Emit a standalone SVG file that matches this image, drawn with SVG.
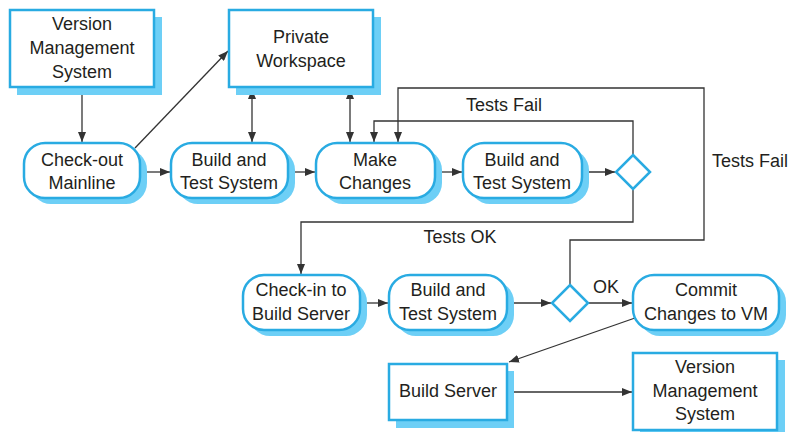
<svg xmlns="http://www.w3.org/2000/svg" width="793" height="432" viewBox="0 0 793 432">
<defs>
<marker id="ah" viewBox="0 0 10 8" refX="10" refY="4" markerWidth="10" markerHeight="8" markerUnits="userSpaceOnUse" orient="auto-start-reverse">
<path d="M0,0 L10,4 L0,8 Z" fill="#333"/>
</marker>
</defs>
<style>
.n{fill:#fff;stroke:#29abe2;stroke-width:2.5}
.sh{fill:#6dcff6;stroke:none}
.d{fill:#fff;stroke:#29abe2;stroke-width:2.5}
.t{font-family:"Liberation Sans",Arial,sans-serif;font-size:18px;fill:#231f20;text-anchor:middle}
.c{fill:none;stroke:#333;stroke-width:1.3}
.a{marker-end:url(#ah)}
.b{marker-start:url(#ah);marker-end:url(#ah)}
</style>
<rect width="793" height="432" fill="#fff"/>

<g id="connectors">
<path class="c a" d="M82,88 V142"/>
<path class="c a" d="M135,148 L228,51"/>
<path class="c a" d="M140,172 H170"/>
<path class="c b" d="M252,89 V142"/>
<path class="c b" d="M350,89 V142"/>
<path class="c a" d="M288,172 H315"/>
<path class="c a" d="M435,172 H462"/>
<path class="c a" d="M582,172 H615"/>
<path class="c a" d="M633,155 V121 H374 V142"/>
<path class="c a" d="M633,189 V222 H301 V274"/>
<path class="c a" d="M570,285 V240 H704 V88 H398 V142"/>
<path class="c a" d="M360,303 H388"/>
<path class="c a" d="M507,303 H551"/>
<path class="c a" d="M588,303 H632"/>
<path class="c a" d="M635,318 L509,362"/>
<path class="c a" d="M507,392 H632"/>
<text class="t" x="504" y="111">Tests Fail</text>
<text class="t" x="750" y="167">Tests Fail</text>
<text class="t" x="460" y="243">Tests OK</text>
<text class="t" x="606" y="293">OK</text>
</g>

<g id="vms1">
<rect class="sh" x="17" y="17" width="145" height="78"/>
<rect class="n" x="10" y="10" width="144" height="77"/>
<text class="t" x="82" y="30">Version</text>
<text class="t" x="82" y="54">Management</text>
<text class="t" x="82" y="78">System</text>
</g>

<g id="workspace">
<rect class="sh" x="236" y="17" width="145" height="78"/>
<rect class="n" x="229" y="10" width="144" height="77"/>
<text class="t" x="301" y="43">Private</text>
<text class="t" x="301" y="67">Workspace</text>
</g>

<g id="checkout">
<rect class="sh" x="30" y="149" width="117" height="55" rx="21"/>
<rect class="n" x="24" y="143" width="116" height="55" rx="21"/>
<text class="t" x="82" y="166">Check-out</text>
<text class="t" x="82" y="189">Mainline</text>
</g>

<g id="build1">
<rect class="sh" x="177" y="149" width="118" height="55" rx="21"/>
<rect class="n" x="171" y="143" width="117" height="55" rx="21"/>
<text class="t" x="229" y="166">Build and</text>
<text class="t" x="229" y="189">Test System</text>
</g>

<g id="make">
<rect class="sh" x="322" y="149" width="120" height="55" rx="21"/>
<rect class="n" x="316" y="143" width="119" height="55" rx="21"/>
<text class="t" x="375" y="166">Make</text>
<text class="t" x="375" y="189">Changes</text>
</g>

<g id="build2">
<rect class="sh" x="469" y="149" width="120" height="55" rx="21"/>
<rect class="n" x="463" y="143" width="119" height="55" rx="21"/>
<text class="t" x="522" y="166">Build and</text>
<text class="t" x="522" y="189">Test System</text>
</g>

<g id="decision1">
<path class="d" d="M633,155 L650,172 L633,189 L616,172 Z"/>
</g>

<g id="checkin">
<rect class="sh" x="249" y="281" width="118" height="55" rx="21"/>
<rect class="n" x="243" y="275" width="117" height="55" rx="21"/>
<text class="t" x="301" y="296">Check-in to</text>
<text class="t" x="301" y="320">Build Server</text>
</g>

<g id="build3">
<rect class="sh" x="395" y="281" width="119" height="55" rx="21"/>
<rect class="n" x="389" y="275" width="118" height="55" rx="21"/>
<text class="t" x="448" y="296">Build and</text>
<text class="t" x="448" y="320">Test System</text>
</g>

<g id="decision2">
<path class="d" d="M570,285 L588,303 L570,321 L552,303 Z"/>
</g>

<g id="commit">
<rect class="sh" x="639" y="281" width="147" height="55" rx="21"/>
<rect class="n" x="633" y="275" width="146" height="55" rx="21"/>
<text class="t" x="706" y="296">Commit</text>
<text class="t" x="706" y="320">Changes to VM</text>
</g>

<g id="buildserver">
<rect class="sh" x="396" y="371" width="118" height="57"/>
<rect class="n" x="389" y="364" width="118" height="56"/>
<text class="t" x="448" y="397">Build Server</text>
</g>

<g id="vms2">
<rect class="sh" x="640" y="360" width="145" height="78"/>
<rect class="n" x="633" y="353" width="144" height="77"/>
<text class="t" x="705" y="373">Version</text>
<text class="t" x="705" y="397">Management</text>
<text class="t" x="705" y="420">System</text>
</g>
</svg>
